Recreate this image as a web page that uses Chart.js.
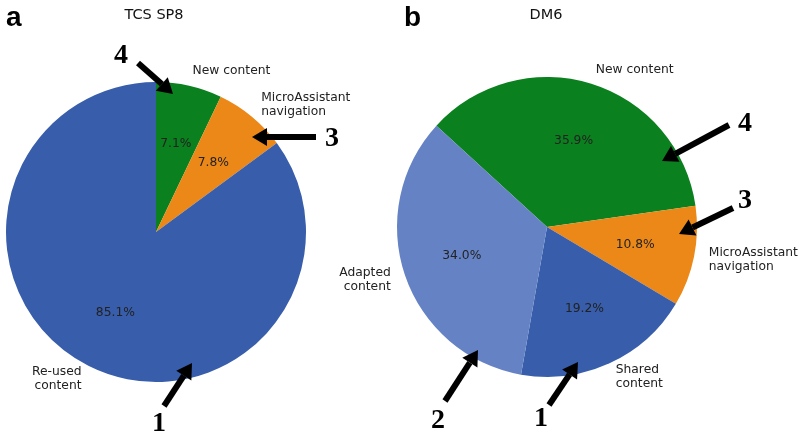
<!DOCTYPE html>
<html>
<head>
<meta charset="utf-8">
<script src="https://cdn.jsdelivr.net/npm/chart.js@4.4.1/dist/chart.umd.min.js"></script>
<style>
body{margin:0;background:#fff;width:801px;height:437px;overflow:hidden;position:relative}
canvas{position:absolute;top:0}
#c-a{left:0}
#c-b{left:320px}
</style>
</head>
<body>
<canvas id="c-a" width="400" height="437"></canvas>
<canvas id="c-b" width="481" height="437"></canvas>
<script>
// panel a - TCS SP8
const labelsA=[['New content'],['MicroAssistant','navigation'],['Re-used','content']];
const valuesA=[7.1,7.8,85.1];
const colorsA=['#0a801e','#ec8818','#375dab'];
// panel b - DM6
const labelsB=[['New content'],['MicroAssistant','navigation'],['Shared','content'],['Adapted','content']];
const valuesB=[35.9,10.8,19.2,34.0];
const colorsB=['#0a801e','#ec8818','#375dab','#6583c4'];

// numbered arrows (page px): number, text pos, arrow from -> tip
const arrowsA=[
  {n:'4',t:[121,55],f:[138,63],to:[173,94]},
  {n:'3',t:[332,138],f:[316,137],to:[252,137]},
  {n:'1',t:[159,423],f:[164,406],to:[192,363]}
];
const arrowsB=[
  {n:'4',t:[745,123],f:[729,125],to:[662,161]},
  {n:'3',t:[745,200],f:[733,208],to:[679,234]},
  {n:'2',t:[438,420],f:[445,401],to:[478,350]},
  {n:'1',t:[541,418],f:[549,405],to:[578,362]}
];

function arrow(ctx,x1,y1,x2,y2){
  let a=Math.atan2(y2-y1,x2-x1),hl=15,hw=9;
  let bx=x2-hl*Math.cos(a),by=y2-hl*Math.sin(a);
  ctx.strokeStyle='#000';ctx.lineWidth=6;ctx.lineCap='butt';
  ctx.beginPath();ctx.moveTo(x1,y1);ctx.lineTo(bx,by);ctx.stroke();
  ctx.fillStyle='#000';ctx.beginPath();
  ctx.moveTo(x2,y2);
  ctx.lineTo(bx+hw*Math.sin(a),by-hw*Math.cos(a));
  ctx.lineTo(bx-hw*Math.sin(a),by+hw*Math.cos(a));
  ctx.closePath();ctx.fill();
}

const annot={
  id:'annot',
  afterDraw(chart,args,o){
    let ctx=chart.ctx, meta=chart.getDatasetMeta(0), vals=chart.data.datasets[0].data;
    ctx.save();
    ctx.font='12.3px "DejaVu Sans"';ctx.fillStyle='#222';
    meta.data.forEach((arc,i)=>{
      let p=arc.getProps(['x','y','startAngle','endAngle','outerRadius'],true);
      let m=(p.startAngle+p.endAngle)/2, r=p.outerRadius;
      ctx.textAlign='center';ctx.textBaseline='middle';
      ctx.fillText(vals[i].toFixed(1)+'%',p.x+0.6*r*Math.cos(m),p.y+0.6*r*Math.sin(m));
      let lx=p.x+1.1*r*Math.cos(m), ly=p.y+1.1*r*Math.sin(m);
      let lines=chart.data.labels[i], lh=14;
      ctx.textAlign=Math.cos(m)>=0?'left':'right';
      lines.forEach((s,j)=>ctx.fillText(s,lx,ly+(j-(lines.length-1)/2)*lh));
    });
    let dx=o.dx;
    ctx.textAlign='center';ctx.textBaseline='middle';
    ctx.font='14.5px "DejaVu Sans"';ctx.fillStyle='#111';
    ctx.fillText(o.title,o.tx-dx,15);
    ctx.font='bold 28px "Liberation Sans"';ctx.textAlign='left';ctx.textBaseline='alphabetic';ctx.fillStyle='#000';
    ctx.fillText(o.letter,o.lx-dx,26);
    o.arrows.forEach(a=>{
      arrow(ctx,a.f[0]-dx,a.f[1],a.to[0]-dx,a.to[1]);
      ctx.font='bold 28px "Liberation Serif"';ctx.textAlign='center';ctx.textBaseline='middle';ctx.fillStyle='#000';
      ctx.fillText(a.n,a.t[0]-dx,a.t[1]+1);
    });
    ctx.restore();
  }
};

function makePie(id,labels,values,colors,rot,pad,ann){
  return new Chart(document.getElementById(id),{
    type:'pie',
    data:{labels:labels,datasets:[{data:values,backgroundColor:colors,borderWidth:0,hoverOffset:0,offset:0,radius:150}]},
    options:{
      responsive:false,animation:false,devicePixelRatio:1,rotation:rot,
      layout:{padding:pad},
      events:[],
      plugins:{legend:{display:false},tooltip:{enabled:false},annot:ann}
    },
    plugins:[annot]
  });
}

makePie('c-a',labelsA,valuesA,colorsA,0,{left:6,right:94,top:82,bottom:55},
  {dx:0,title:'TCS SP8',tx:154,letter:'a',lx:6,arrows:arrowsA});
makePie('c-b',labelsB,valuesB,colorsB,-47.5,{left:77,right:104,top:77,bottom:60},
  {dx:320,title:'DM6',tx:546,letter:'b',lx:404,arrows:arrowsB});
</script>
</body>
</html>
